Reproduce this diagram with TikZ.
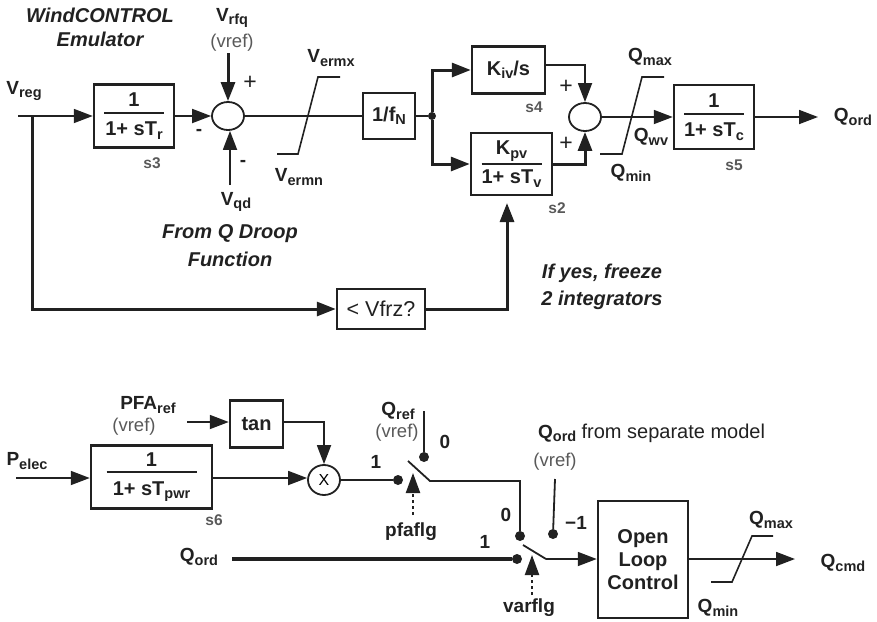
\documentclass[tikz,border=0pt]{standalone}
\usepackage{fontspec}
\setmainfont{Liberation Sans}
\usetikzlibrary{arrows.meta,shapes.geometric}
\definecolor{ink}{gray}{0.13}
\definecolor{soft}{gray}{0.35}
\newcommand{\subtxt}[1]{\raisebox{-3.5pt}{\fontsize{14.5}{14.5}\selectfont #1}}
\newcommand{\fracbody}[3]{#1\\[-14pt]\rule[2pt]{#2pt}{2pt}\\[-3pt]#3}
\tikzset{
  lbl/.style={font=\fontsize{19}{23}\selectfont\bfseries, text=ink, inner sep=0pt, align=center},
  sign/.style={font=\fontsize{23}{23}\selectfont, text=ink, inner sep=0pt},
  hint/.style={font=\fontsize{20}{24}\selectfont\bfseries\itshape, text=ink, inner sep=0pt, align=center},
  vref/.style={font=\fontsize{18.5}{20}\selectfont, text=soft, inner sep=0pt},
  tag/.style={font=\fontsize{15.5}{18}\selectfont\bfseries, text=soft, inner sep=0pt},
  block/.style={draw=ink, line width=2.5pt, inner sep=0pt, align=center, text=ink,
    font=\fontsize{20}{23}\selectfont\bfseries},
  summer/.style={draw=ink, line width=1.8pt, ellipse, inner sep=0pt, minimum width=32pt, minimum height=28pt},
  contact/.style={fill=ink, circle, inner sep=0pt, minimum size=10pt},
  sig/.style={draw=ink, line width=1.8pt, -{Triangle[length=19pt,width=14pt]}},
  sigthick/.style={sig, line width=3pt},
  wire/.style={draw=ink, line width=1.8pt},
  wirethick/.style={draw=ink, line width=3.2pt},
  limit/.style={draw=ink, line width=1.6pt},
  flag/.style={draw=ink, line width=2.2pt, dash pattern=on 3pt off 3pt, -{Triangle[length=20pt,width=14pt]}}
}
\begin{document}
\begin{tikzpicture}[x=1pt,y=-1pt]
  \useasboundingbox (0,0) rectangle (877,621);

  % Upper loop: blocks and summers
  \node[block, minimum width=80pt, minimum height=63pt] (s3) at (134,116) {\fracbody{1}{60}{1+ sT\subtxt{r}}};
  \node[summer] (sumv) at (228,116) {};
  \node[block, minimum width=52pt, minimum height=46pt] (fn) at (389,116) {1/f\subtxt{N}};
  \node[block, minimum width=73pt, minimum height=47pt] (kiv) at (508.5,70) {K\subtxt{iv}/s};
  \node[block, minimum width=81pt, minimum height=62pt] (kpv) at (511.5,164) {K\subtxt{pv}\\[-11pt]\rule[2pt]{60pt}{2pt}\\[-6pt]1+ sT\subtxt{v}};
  \node[summer] (sumq) at (585,117) {};
  \node[block, minimum width=80pt, minimum height=64pt] (s5) at (714,117) {\fracbody{1}{60}{1+ sT\subtxt{c}}};
  \node[block, minimum width=88pt, minimum height=40pt] (frz) at (381,309) {\fontsize{21.5}{23}\selectfont\textmd{< Vfrz?}};
  \node[contact, minimum size=8pt] (tee) at (432,116) {};

  % Upper loop: labels
  \node[hint] (title) at (100,27) {WindCONTROL\\Emulator};
  \node[lbl] (vreg) at (24,91) {V\subtxt{reg}};
  \node[lbl] (vrfq) at (232,18) {V\subtxt{rfq}};
  \node[vref] (vrfqsrc) at (232,43) {(vref)};
  \node[lbl] (vqd) at (236,202) {V\subtxt{qd}};
  \node[hint] (droop) at (230,246) {From Q Droop\\[4pt]Function};
  \node[lbl] (vermx) at (331,58) {V\subtxt{ermx}};
  \node[lbl] (vermn) at (299,177) {V\subtxt{ermn}};
  \node[sign] (plusv) at (250,83) {+};
  \node[lbl] (minusa) at (199,132) {-};
  \node[lbl] (minusb) at (243,163) {-};
  \node[tag] (s3tag) at (152,163) {s3};
  \node[tag] (s4tag) at (534,107) {s4};
  \node[tag] (s2tag) at (557,208) {s2};
  \node[tag] (s5tag) at (734,165) {s5};
  \node[sign] (plusa) at (566,87) {+};
  \node[sign] (plusb) at (566,144) {+};
  \node[lbl] (qmaxa) at (650,57) {Q\subtxt{max}};
  \node[lbl] (qwv) at (651,137) {Q\subtxt{wv}};
  \node[lbl] (qmina) at (631,173) {Q\subtxt{min}};
  \node[lbl] (qorda) at (853,117) {Q\subtxt{ord}};
  \node[hint] (freeze) at (602,287) {If yes, freeze\\[3pt]2 integrators};

  % Free ends of the upper loop
  \coordinate (vin) at (18,116);
  \coordinate (vbranch) at (32,116);
  \coordinate (vfb) at (32,309);
  \coordinate (vrfqin) at (228,53);
  \coordinate (vqdin) at (230,185);
  \coordinate (kivout) at (545,65);
  \coordinate (kivdown) at (585,65);
  \coordinate (kpvup) at (585,164);
  \coordinate (frzcorner) at (507,309);
  \coordinate (frztip) at (507,203);
  \coordinate (qordout) at (818,117);

  % Upper loop: connectors
  \draw[sig] (vin) -- (s3.west);
  \draw[sig] (s3.east) -- (sumv.west);
  \draw[sigthick] (vrfqin) -- (sumv.north);
  \draw[sig] (vqdin) -- (sumv.south -| vqdin);
  \draw[wire] (sumv.east) -- (fn.west);
  \draw[wire] (fn.east) -- (tee);
  \draw[sigthick] (vbranch) -- (vfb) -- (frz.west);
  \draw[sigthick] (tee) |- (kiv.west);
  \draw[sigthick] (tee) |- (kpv.west);
  \draw[sig] (kivout) -- (kivdown) -- (sumq.north);
  \draw[sigthick] (kpv.east) -- (kpvup) -- (sumq.south);
  \draw[sig] (sumq.east) -- (s5.west);
  \draw[sig] (s5.east) -- (qordout);
  \draw[sigthick] (frz.east) -- (frzcorner) -- (frztip);

  % Limiters
  \draw[limit] (277,154) -- (298,154) -- (318,77) -- (340,77);
  \draw[limit] (600,154) -- (622,154) -- (642,77) -- (664,77);
  \draw[limit] (711,582) -- (732,582) -- (752,536) -- (773,536);

  % Lower part: blocks
  \node[block, minimum width=121pt, minimum height=63pt] (s6) at (151.5,477) {\fracbody{1}{90}{1+ sT\subtxt{pwr}}};
  \node[block, minimum width=53pt, minimum height=47pt] (tanb) at (256.5,424) {tan};
  \node[summer, minimum width=32pt, minimum height=30pt] (mult) at (324,480) {\fontsize{16}{16}\selectfont X};
  \node[block, minimum width=90pt, minimum height=117pt] (olc) at (643,559.5) {Open\\Loop\\Control};

  % Lower part: contacts
  \node[contact] (pfaone) at (398,480) {};
  \node[contact] (pfazero) at (424,457) {};
  \node[contact] (varzero) at (520,536) {};
  \node[contact] (varone) at (517,559) {};
  \node[contact] (varneg) at (553,534) {};

  % Lower part: labels
  \node[lbl] (pfaref) at (148,405) {PFA\subtxt{ref}};
  \node[vref] (pfasrc) at (134,427) {(vref)};
  \node[lbl] (pelec) at (27,461) {P\subtxt{elec}};
  \node[tag] (s6tag) at (214,520) {s6};
  \node[lbl] (qordb) at (199,557) {Q\subtxt{ord}};
  \node[lbl] (onea) at (376,462) {1};
  \node[lbl] (qref) at (398,411) {Q\subtxt{ref}};
  \node[vref] (qrefsrc) at (397,433) {(vref)};
  \node[lbl] (zeroa) at (445,442) {0};
  \node[lbl, anchor=west] (qordc) at (538,433) {Q\subtxt{ord} \fontsize{20}{23}\selectfont\textmd{from separate model}};
  \node[vref] (qordsrc) at (555,462) {(vref)};
  \node[lbl] (zerob) at (506,515) {0};
  \node[lbl] (oneb) at (485,542) {1};
  \node[lbl] (negone) at (576,523) {\textminus 1};
  \node[lbl] (pfaflg) at (411,532) {pfaflg};
  \node[lbl] (varflg) at (529,608) {varflg};
  \node[lbl] (qmaxb) at (771,520) {Q\subtxt{max}};
  \node[lbl] (qminb) at (718,608) {Q\subtxt{min}};
  \node[lbl] (qcmd) at (843,563) {Q\subtxt{cmd}};

  % Free ends of the lower part
  \coordinate (pelecin) at (16,478);
  \coordinate (pfain) at (187,422);
  \coordinate (tanout) at (283,422);
  \coordinate (tancorner) at (324,422);
  \coordinate (qrefin) at (424,411);
  \coordinate (pfapivot) at (408,461);
  \coordinate (pfaknee) at (430,481);
  \coordinate (pfacorner) at (520,481);
  \coordinate (pfaflgbot) at (413,515);
  \coordinate (pfaflgtip) at (413,473);
  \coordinate (qordin) at (232,559);
  \coordinate (qsepin) at (555,479);
  \coordinate (varpivot) at (523,545);
  \coordinate (varknee) at (546,559);
  \coordinate (varflgbot) at (532,595);
  \coordinate (varflgtip) at (532,555);
  \coordinate (qcmdout) at (795,559);

  % Lower part: connectors
  \draw[sig] (pelecin) -- (s6.west |- pelecin);
  \draw[sig] (pfain) -- (tanb.west |- pfain);
  \draw[sig] (tanout) -- (tancorner) -- (mult.north);
  \draw[sig] (s6.east |- pelecin) -- (mult.west |- pelecin);
  \draw[wirethick, line width=2.2pt] (mult.east) -- (pfaone);
  \draw[wire] (qrefin) -- (pfazero);
  \draw[wire] (pfapivot) -- (pfaknee) -- (pfacorner) -- (varzero);
  \draw[flag] (pfaflgbot) -- (pfaflgtip);
  \draw[wirethick] (qordin) -- (varone);
  \draw[wire] (qsepin) -- (varneg);
  \draw[wire] (varpivot) -- (varknee);
  \draw[sig] (varknee) -- (olc.west |- varknee);
  \draw[flag] (varflgbot) -- (varflgtip);
  \draw[sig] (olc.east |- qcmdout) -- (qcmdout);
\end{tikzpicture}
\end{document}
